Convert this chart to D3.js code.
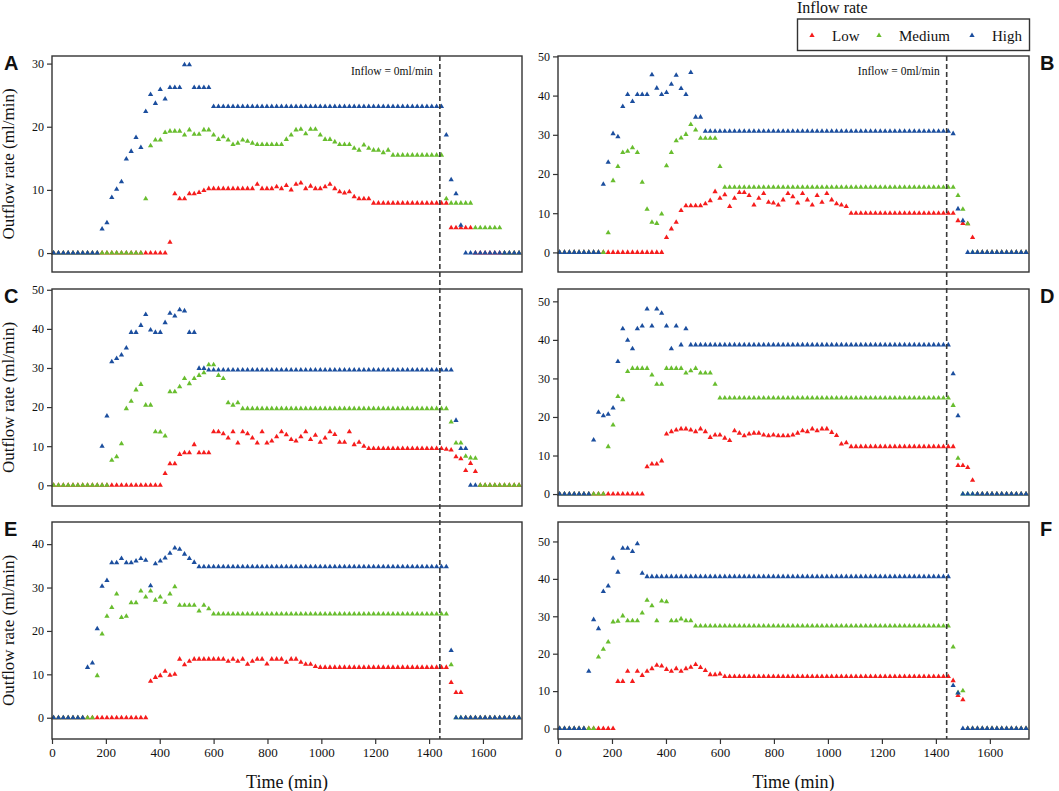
<!DOCTYPE html>
<html>
<head>
<meta charset="utf-8">
<script src="https://cdn.jsdelivr.net/npm/d3@7"></script>
<style>
body { margin: 0; background: #fff; }
</style>
</head>
<body>
<svg id="chart" width="1059" height="791"></svg>
<script>
// one reading every 18 min
const times = d3.range(6, 1740, 18);

const A_low = [0,0,0,0,0,0,0,0,0,0, 0,0,0,0,0,0,0,0,0,0, 0,0,0,0,
  1.7,9.4,8.6,8.6,9.4,9.4,9.6,9.9,
  10.2,10.2,10.2,10.2,10.2,10.2,10.2,10.2,10.2,10.2,
  10.9,10.2,10.2,10.2,10.5,10.2,10.7,10.0,10.9,11.1,10.2,10.6,10.2,10.2,10.5,10.9,10.2,9.7,9.5,9.7,8.9,8.6,8.6,8.6,
  7.9,7.9,7.9,7.9,7.9,7.9,7.9,7.9,7.9,7.9,7.9,7.9,7.9,7.9,7.9,7.9,
  4,4,4,4,4,
  0,0,0,0,0,0,0,0,0,0];
const A_med = [0,0,0,0,0,0,0,0,0,0, 0,0,0,0,0,0,0,0,0,
  8.6,17.0,17.9,17.9,19.1,19.3,19.3,19.3,18.7,19.5,18.8,18.8,19.5,19.5,18.7,18.0,18.4,17.9,17.2,17.4,17.9,17.7,17.4,17.2,17.2,17.2,17.2,17.2,17.2,
  18.0,18.7,19.5,19.6,18.9,19.6,19.6,18.7,18.0,18.0,17.6,17.2,17.2,17.2,16.6,16.3,17.1,16.6,16.3,16.3,15.9,16.3,
  15.5,15.5,15.5,15.5,15.5,15.5,15.5,15.5,15.5,15.5,15.5,
  8.6, 7.9,7.9,7.9,7.9,7.9, 4,4,4,4,4,4,
  0,0,0,0];
const A_high = [0,0,0,0,0,0,0,0,0,0,
  3.8,4.8,8.8,10.1,11.3,14.9,16.1,18.3,16.7,22.4,25.1,23.7,25.9,24.4,26.2,26.2,26.2,29.8,29.8,26.2,26.2,26.2,26.2,
  23.2,23.2,23.2,23.2,23.2,23.2,23.2,23.2,23.2,23.2, 23.2,23.2,23.2,23.2,23.2,23.2,23.2,23.2,23.2,23.2,
  23.2,23.2,23.2,23.2,23.2,23.2,23.2,23.2,23.2,23.2, 23.2,23.2,23.2,23.2,23.2,23.2,23.2,23.2,23.2,23.2,
  23.2,23.2,23.2,23.2,23.2,23.2,23.2,23.2,
  18.7,11.6,9.4,4.4,
  0,0,0,0,0,0,0,0,0,0,0,0];

const B_low = [0,0,0,0,0,0,0,0,0,0, 0,0,0,0,0,0,0,0,0,0, 0,0,
  3.8,6.0,7.7,10.7,11.9,11.9,11.9,11.9,12.4,13.2,15.5,13.8,14.7,11.7,13.8,15.3,15.3,14.5,12.1,13.8,15.0,12.8,12.6,12.1,13.4,15.0,14.2,12.6,15.0,13.4,12.1,14.5,12.8,15.0,13.4,12.4,12.1,11.7,
  10,10,10,10,10,10,10,10,10,10, 10,10,10,10,10,10,10,10,10,10, 10,10,
  8.1,7.4,7.3,3.8,
  0,0,0,0,0,0,0,0,0,0,0];
const B_med = [0,0,0,0,0,0,0,0,0,0,
  5.0,18.3,21.9,25.5,25.8,26.7,25.5,17.9,11.0,7.7,7.4,9.8,22.1,25.5,28.5,29.2,30.1,32.6,31.2,29.1,29.1,29.1,29.1,21.9,
  16.6,16.6,16.6,16.6,16.6,16.6,16.6,16.6,16.6,16.6, 16.6,16.6,16.6,16.6,16.6,16.6,16.6,16.6,16.6,16.6,
  16.6,16.6,16.6,16.6,16.6,16.6,16.6,16.6,16.6,16.6, 16.6,16.6,16.6,16.6,16.6,16.6,16.6,16.6,16.6,16.6,
  16.6,16.6,16.6,16.6,16.6,16.6,16.6,16.6,
  14.5,11.0,7.3,
  0,0,0,0,0,0,0,0,0,0,0,0];
const B_high = [0,0,0,0,0,0,0,0,0,
  17.4,23.0,30.3,29.5,37.2,40.3,38.5,40.3,40.3,40.3,45.3,41.9,40.3,40.8,42.9,45.2,41.8,40.3,45.9,34.5,34.5,
  30.9,30.9,30.9,30.9,30.9,30.9,30.9,30.9,30.9,30.9, 30.9,30.9,30.9,30.9,30.9,30.9,30.9,30.9,30.9,30.9,
  30.9,30.9,30.9,30.9,30.9,30.9,30.9,30.9,30.9,30.9, 30.9,30.9,30.9,30.9,30.9,30.9,30.9,30.9,30.9,30.9,
  30.9,30.9,30.9,30.9,30.9,30.9,30.9,30.9,30.9,30.9, 30.9,
  30.3,11.1,8.1,
  0,0,0,0,0,0,0,0,0,0,0,0,0];

const C_low = [0,0,0,0,0,0,0,0,0,0, 0,0,0,0,0,0,0,0,0,0, 0,0,0,
  3.0,5.5,5.5,7.9,8.3,8.3,10.4,8.3,8.3,8.3,13.7,13.7,13.2,12.1,13.7,10.8,13.7,13.2,12.1,10.8,13.7,10.8,11.3,12.4,13.7,12.9,11.7,11.3,12.4,13.7,11.7,12.8,11.0,12.1,13.7,13.0,11.0,11.0,13.7,10.4,11.0,10.0,
  9.4,9.4,9.4,9.4,9.4,9.4,9.4,9.4,9.4,9.4,9.4,9.4,9.4,9.4,9.4,9.4,
  9.2,9.0,7.3,6.8,3.8,5.6,3.5,
  0,0,0,0,0,0,0,0,0];
const C_med = [0,0,0,0,0,0,0,0,0,0,0,0,
  6.4,7.3,10.6,19.6,21.5,24.4,25.8,20.5,20.5,13.7,13.6,12.6,23.9,23.9,25.2,27.3,26.0,27.3,28.1,28.8,30.8,30.8,28.1,27.3,21.1,20.5,21.1,
  19.6,19.6,19.6,19.6,19.6,19.6,19.6,19.6,19.6,19.6, 19.6,19.6,19.6,19.6,19.6,19.6,19.6,19.6,19.6,19.6,
  19.6,19.6,19.6,19.6,19.6,19.6,19.6,19.6,19.6,19.6, 19.6,19.6,19.6,19.6,19.6,19.6,19.6,19.6,19.6,19.6,
  19.6,19.6,19.6,
  16.2,10.8,10.8,7.4,7.0,6.9,
  0,0,0,0,0,0,0,0,0];
const C_high = [null,null,null,null,null,null,null,null,null,null,
  10.0,17.7,31.6,32.4,33.3,35.1,39.1,39.1,40.9,43.7,39.7,39.1,39.1,41.6,44.0,43.3,44.9,44.6,39.1,39.1,29.9,29.9,
  29.5,29.5,29.5,29.5,29.5,29.5,29.5,29.5,29.5,29.5, 29.5,29.5,29.5,29.5,29.5,29.5,29.5,29.5,29.5,29.5,
  29.5,29.5,29.5,29.5,29.5,29.5,29.5,29.5,29.5,29.5, 29.5,29.5,29.5,29.5,29.5,29.5,29.5,29.5,29.5,29.5,
  29.5,29.5,29.5,29.5,29.5,29.5,29.5,29.5,29.5,29.5, 29.5,
  16.6,9.4,9.4,0,0,
  null,null,null,null,null,null,null,null,null];

const D_low = [0,0,0,0,0,0,0,0,0,0, 0,0,0,0,0,0,0,0,
  7.1,7.8,7.8,8.6,15.6,16.2,16.6,16.9,16.9,16.6,16.2,16.9,16.2,14.7,15.3,15.3,14.5,13.9,
  16.4,15.8,15.1,15.6,15.8,15.8,15.3,15.1,15.3,15.1,15.1,15.1,15.3,15.8,16.4,16.2,16.9,16.4,16.9,16.9,16.0,15.2,13.0,13.3,
  12.3,12.3,12.3,12.3,12.3,12.3,12.3,12.3,12.3,12.3, 12.3,12.3,12.3,12.3,12.3,12.3,12.3,12.3,12.3,12.3, 12.3,12.3,
  7.4,7.4,6.9,3.6,
  0,0,0,0,0,0,0,0,0,0,0];
const D_med = [0,0,0,0,0,0,0,0,0,0,
  12.3,17.9,25.3,24.5,31.8,32.6,32.6,32.6,32.6,30.9,28.5,28.5,32.6,32.6,32.6,32.6,31.4,32.0,32.6,31.4,31.4,31.4,28.5,
  24.9,24.9,24.9,24.9,24.9,24.9,24.9,24.9,24.9,24.9, 24.9,24.9,24.9,24.9,24.9,24.9,24.9,24.9,24.9,24.9,
  24.9,24.9,24.9,24.9,24.9,24.9,24.9,24.9,24.9,24.9, 24.9,24.9,24.9,24.9,24.9,24.9,24.9,24.9,24.9,24.9,
  24.9,24.9,24.9,24.9,24.9,24.9,24.9,24.9,
  23.0,9.3,
  0,0,0,0,0,0,0,0,0,0,0,0,0,0];
const D_high = [0,0,0,0,0,0,0,
  14.0,21.2,20.3,20.7,22.3,34.4,42.9,39.9,37.7,42.9,43.6,48.0,43.6,48.0,46.9,43.6,37.7,43.6,38.7,42.9,
  38.7,38.7,38.7,38.7,38.7,38.7,38.7,38.7,38.7,38.7, 38.7,38.7,38.7,38.7,38.7,38.7,38.7,38.7,38.7,38.7,
  38.7,38.7,38.7,38.7,38.7,38.7,38.7,38.7,38.7,38.7, 38.7,38.7,38.7,38.7,38.7,38.7,38.7,38.7,38.7,38.7,
  38.7,38.7,38.7,38.7,38.7,38.7,38.7,38.7,38.7,38.7, 38.7,38.7,38.7,38.7,
  31.2,20.3,
  0,0,0,0,0,0,0,0,0,0,0,0,0,0];

const E_low = [0,0,0,0,0,0,0,0,0,0, 0,0,0,0,0,0,0,0,0,0,
  8.4,9.3,9.7,10.7,9.8,10.0,13.5,12.2,13.0,13.5,
  13.5,13.5,13.5,13.5,13.5,13.5,
  13.0,13.5,13.0,13.5,12.3,13.0,13.5,13.5,12.4,13.5,13.5,13.5,12.8,13.5,13.5,12.8,12.3,12.3,11.8,
  11.6,11.6,11.6,11.6,11.6,11.6,11.6,11.6,11.6,11.6, 11.6,11.6,11.6,11.6,11.6,11.6,11.6,11.6,11.6,11.6,
  11.6,11.6,11.6,11.6,11.6,11.6,11.6,
  8.1,5.8,5.8,
  0,0,0,0,0,0,0,0,0,0,0,0];
const E_med = [0,0,0,0,0,0,0,0,0,
  9.7,19.3,23.4,25.4,28.5,23.1,23.4,26.5,26.5,29.2,27.8,29.2,27.1,27.8,26.6,28.5,30.2,25.9,25.9,25.9,25.9,24.6,25.9,25.1,
  23.9,23.9,23.9,23.9,23.9,23.9,23.9,23.9,23.9,23.9, 23.9,23.9,23.9,23.9,23.9,23.9,23.9,23.9,23.9,23.9,
  23.9,23.9,23.9,23.9,23.9,23.9,23.9,23.9,23.9,23.9, 23.9,23.9,23.9,23.9,23.9,23.9,23.9,23.9,23.9,23.9,
  23.9,23.9,23.9,23.9,23.9,23.9,23.9,23.9,23.9,
  12.2,
  0,0,0,0,0,0,0,0,0,0,0,0,0,0];
const E_high = [0,0,0,0,0,0,0,
  11.6,12.6,20.5,30.3,31.6,35.7,35.7,36.7,35.7,35.7,36.1,36.7,36.3,30.4,35.5,36.1,36.8,37.9,39.1,38.8,37.7,36.7,35.8,
  34.8,34.8,34.8,34.8,34.8,34.8,34.8,34.8,34.8,34.8, 34.8,34.8,34.8,34.8,34.8,34.8,34.8,34.8,34.8,34.8,
  34.8,34.8,34.8,34.8,34.8,34.8,34.8,34.8,34.8,34.8, 34.8,34.8,34.8,34.8,34.8,34.8,34.8,34.8,34.8,34.8,
  34.8,34.8,34.8,34.8,34.8,34.8,34.8,34.8,34.8,34.8, 34.8,34.8,
  15.5,
  0,0,0,0,0,0,0,0,0,0,0,0,0,0];

const F_low = [0,0,0,0,0,0,0,0,0,0,0,0,
  12.6,12.6,15.3,12.6,15.3,14.2,15.3,16.0,16.9,16.7,15.8,15.3,16.0,15.3,16.0,16.4,17.1,16.3,15.5,14.4,14.4,14.6,
  13.9,13.9,13.9,13.9,13.9,13.9,13.9,13.9,13.9,13.9, 13.9,13.9,13.9,13.9,13.9,13.9,13.9,13.9,13.9,13.9,
  13.9,13.9,13.9,13.9,13.9,13.9,13.9,13.9,13.9,13.9, 13.9,13.9,13.9,13.9,13.9,13.9,13.9,13.9,13.9,13.9,
  13.9,13.9,13.9,13.9,13.9,13.9,13.9,
  12.8,8.8,7.7,
  0,0,0,0,0,0,0,0,0,0,0,0,0];
const F_med = [0,0,0,0,0,0,0,0,
  19.1,21.2,23.1,28.5,28.7,30.1,28.8,28.8,28.8,30.9,34.3,32.8,28.8,34.1,33.9,28.8,28.8,29.3,28.8,28.8,
  27.4,27.4,27.4,27.4,27.4,27.4,27.4,27.4,27.4,27.4, 27.4,27.4,27.4,27.4,27.4,27.4,27.4,27.4,27.4,27.4,
  27.4,27.4,27.4,27.4,27.4,27.4,27.4,27.4,27.4,27.4, 27.4,27.4,27.4,27.4,27.4,27.4,27.4,27.4,27.4,27.4,
  27.4,27.4,27.4,27.4,27.4,27.4,27.4,27.4,27.4,27.4, 27.4,27.4,27.4,
  21.8,9.6,10.1,
  0,0,0,0,0,0,0,0,0,0,0,0,0];
const F_high = [0,0,0,0,0,0,
  15.3,29.1,26.7,36.6,38.1,45.5,41.8,48.2,48.2,47.3,49.4,41.5,
  40.6,40.6,40.6,40.6,40.6,40.6,40.6,40.6,40.6,40.6, 40.6,40.6,40.6,40.6,40.6,40.6,40.6,40.6,40.6,40.6,
  40.6,40.6,40.6,40.6,40.6,40.6,40.6,40.6,40.6,40.6, 40.6,40.6,40.6,40.6,40.6,40.6,40.6,40.6,40.6,40.6,
  40.6,40.6,40.6,40.6,40.6,40.6,40.6,40.6,40.6,40.6, 40.6,40.6,40.6,40.6,40.6,40.6,40.6,40.6,40.6,40.6,
  40.6,40.6,40.6,
  11.5,9.5,
  0,0,0,0,0,0,0,0,0,0,0,0,0,0];

const seriesNames = ['Low', 'Medium', 'High'];
const colors = ['#f51c1c', '#68bd2e', '#1b4e9e'];
const panelIds = ['A', 'B', 'C', 'D', 'E', 'F'];
const panelSeries = {
  A: [A_low, A_med, A_high], B: [B_low, B_med, B_high],
  C: [C_low, C_med, C_high], D: [D_low, D_med, D_high],
  E: [E_low, E_med, E_high], F: [F_low, F_med, F_high]
};
const yDomains = {A: [-3, 31.2], B: [-5, 50.1], C: [-5.3, 50.2], D: [-3.1, 53.2], E: [-4.9, 45.1], F: [-2.8, 55.2]};
const yTicks = {A: [0, 10, 20, 30], B: [0, 10, 20, 30, 40, 50], C: [0, 10, 20, 30, 40, 50],
                D: [0, 10, 20, 30, 40, 50], E: [0, 10, 20, 30, 40], F: [0, 10, 20, 30, 40, 50]};
const xTicks = [0, 200, 400, 600, 800, 1000, 1200, 1400, 1600];
const xMax = 1745;
const inflowStop = 1440;

// layout
const cols = [[52, 522], [558, 1029]];
const rows = [[56, 272], [289, 506], [522, 739]];
const ink = '#333';
const serif = '"Liberation Serif", "Times New Roman", Times, serif';
const sans = '"Liberation Sans", Arial, Helvetica, sans-serif';

const svg = d3.select('#chart');
const tri = d3.symbol().type(d3.symbolTriangle).size(12);

function label(sel, size) {
  return sel.style('font-family', serif).style('font-size', size + 'px').attr('fill', '#111');
}

panelIds.forEach((id, p) => {
  const c = p % 2, r = Math.floor(p / 2);
  const [x0, x1] = cols[c];
  const [y0, y1] = rows[r];
  const x = d3.scaleLinear().domain([0, xMax]).range([x0, x1]);
  const y = d3.scaleLinear().domain(yDomains[id]).range([y1, y0]);
  const g = svg.append('g');

  // y axis
  const ya = g.append('g').attr('transform', `translate(${x0},0)`)
    .call(d3.axisLeft(y).tickValues(yTicks[id]).tickFormat(d3.format('d')).tickSize(5).tickPadding(3));
  ya.select('.domain').remove();
  ya.selectAll('line').attr('stroke', ink).attr('stroke-width', 1.2);
  label(ya.selectAll('text'), 12);

  if (r === 2) {
    const xa = g.append('g').attr('transform', `translate(0,${y1})`)
      .call(d3.axisBottom(x).tickValues(xTicks).tickFormat(d3.format('d')).tickSize(5).tickPadding(4));
    xa.select('.domain').remove();
    xa.selectAll('line').attr('stroke', ink).attr('stroke-width', 1.2);
    label(xa.selectAll('text'), 13);
  }

  // markers: Low first, High on top
  panelSeries[id].forEach((vals, s) => {
    const pts = times.map((t, i) => ({t: t, v: vals[i]})).filter(d => d.v !== null && d.v !== undefined);
    g.append('g').selectAll('path')
      .data(pts)
      .join('path')
      .attr('d', tri)
      .attr('transform', d => `translate(${x(d.t)},${y(d.v)})`)
      .attr('fill', colors[s]);
  });

  g.append('rect')
    .attr('x', x0).attr('y', y0)
    .attr('width', x1 - x0).attr('height', y1 - y0)
    .attr('fill', 'none').attr('stroke', ink).attr('stroke-width', 1.4);

  if (r === 0) {
    label(g.append('text'), 11.5)
      .attr('x', x(inflowStop) - 7).attr('y', y0 + 18.5)
      .attr('text-anchor', 'end')
      .text('Inflow = 0ml/min');
  }

  // panel letter
  svg.append('text')
    .attr('x', c === 0 ? 4 : 1040).attr('y', y0 + 14)
    .style('font-family', sans).style('font-weight', 'bold').style('font-size', '20px')
    .attr('fill', '#111')
    .text(id);

  if (c === 0) {
    label(svg.append('text'), 17)
      .attr('transform', `translate(14,${(y0 + y1) / 2}) rotate(-90)`)
      .attr('text-anchor', 'middle')
      .text('Outflow rate (ml/min)');
  }
});

// dashed line where the inflow stops, one per column
cols.forEach(([x0, x1]) => {
  const x = d3.scaleLinear().domain([0, xMax]).range([x0, x1]);
  svg.append('line')
    .attr('x1', x(inflowStop)).attr('x2', x(inflowStop))
    .attr('y1', rows[0][0]).attr('y2', rows[2][1])
    .attr('stroke', '#3a3a3a').attr('stroke-width', 1.6)
    .attr('stroke-dasharray', '5,3');
});

// x titles
cols.forEach(([x0, x1]) => {
  label(svg.append('text'), 18)
    .attr('x', (x0 + x1) / 2).attr('y', 788)
    .attr('text-anchor', 'middle')
    .text('Time (min)');
});

// legend
const lg = svg.append('g');
label(lg.append('text'), 16).attr('x', 797).attr('y', 13).text('Inflow rate');
lg.append('rect').attr('x', 797.5).attr('y', 19).attr('width', 232).attr('height', 31.5)
  .attr('fill', '#fff').attr('stroke', ink).attr('stroke-width', 1.4);
const legX = [812, 879, 972];
seriesNames.forEach((name, i) => {
  lg.append('path').attr('d', tri).attr('transform', `translate(${legX[i]},35.5)`).attr('fill', colors[i]);
  label(lg.append('text'), 15).attr('x', legX[i] + 20).attr('y', 40.5).text(name);
});
</script>
</body>
</html>
